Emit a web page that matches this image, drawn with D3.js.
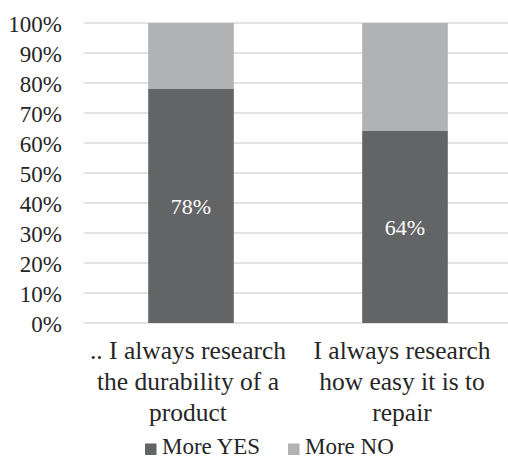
<!DOCTYPE html>
<html>
<head>
<meta charset="utf-8">
<script src="https://cdn.jsdelivr.net/npm/d3@7"></script>
<style>
  html, body { margin: 0; padding: 0; background: #fff; }
  svg { display: block; }
</style>
</head>
<body>
<script>
// Survey answers, share of respondents per statement
const categories = [
  [".. I always research", "the durability of a", "product"],
  ["I always research", "how easy it is to", "repair"]
];
const seriesNames = ["More YES", "More NO"];
const yesValues = [78, 64];
const noValues = [22, 36];
const yTicks = [0, 10, 20, 30, 40, 50, 60, 70, 80, 90, 100];
const colors = ["#636466", "#b1b2b4"];

const FONT = "'Liberation Serif', 'Times New Roman', Times, 'DejaVu Serif', serif";
const INK = "#262626";
const W = 508, H = 461;
const svg = d3.select("body").append("svg").attr("width", W).attr("height", H)
  .style("font-family", FONT);

const x = d3.scaleBand().domain(d3.range(categories.length))
  .range([84, 512]).paddingInner(0.6).paddingOuter(0.3);
const y = d3.scaleLinear().domain([0, 100]).range([323, 23]);

// Gridlines
svg.append("g").selectAll("line").data(yTicks).join("line")
  .attr("x1", 84).attr("x2", W)
  .attr("y1", d => y(d)).attr("y2", d => y(d))
  .attr("stroke", "#d9d9d9").attr("stroke-width", 1.5);

// Y axis labels
const yAxis = d3.axisLeft(y).tickValues(yTicks).tickFormat(d => d + "%").tickSize(0).tickPadding(0);
const gy = svg.append("g").attr("transform", "translate(62,0)").call(yAxis)
  .attr("font-family", null).attr("font-size", null);
gy.select(".domain").remove();
gy.selectAll("text")
  .style("font-family", FONT).style("font-size", "23px")
  .attr("fill", INK).attr("dy", "0.35em");

// Stacked bars
const stackData = categories.map((c, i) => ({ i, yes: yesValues[i], no: noValues[i] }));
const series = d3.stack().keys(["yes", "no"])(stackData);
svg.append("g").selectAll("g").data(series).join("g")
  .attr("fill", (d, k) => colors[k])
  .selectAll("rect").data(d => d).join("rect")
  .attr("x", d => x(d.data.i))
  .attr("width", x.bandwidth())
  .attr("y", d => y(d[1]))
  .attr("height", d => y(d[0]) - y(d[1]));

// Value labels inside the YES segment
svg.append("g").selectAll("text").data(stackData).join("text")
  .attr("x", d => x(d.i) + x.bandwidth() / 2)
  .attr("y", d => y(d.yes / 2))
  .attr("dy", "0.35em")
  .attr("text-anchor", "middle")
  .style("font-family", FONT)
  .style("font-size", "22px")
  .attr("fill", "#ffffff")
  .text(d => d.yes + "%");

// Category labels, three lines each under the bars
const cat = svg.append("g").selectAll("text").data(categories).join("text")
  .attr("text-anchor", "middle")
  .attr("x", (d, i) => x(i) + x.bandwidth() / 2 - 3)
  .attr("y", 359)
  .attr("fill", INK)
  .style("font-family", FONT)
  .style("font-size", "25.5px");
cat.selectAll("tspan").data(d => d).join("tspan")
  .attr("x", function () { return d3.select(this.parentNode).attr("x"); })
  .attr("dy", (d, j) => j === 0 ? 0 : 31)
  .text(d => d);

// Legend
const legendX = [145, 288];
const lg = svg.append("g").selectAll("g").data(seriesNames).join("g")
  .attr("transform", (d, i) => `translate(${legendX[i]},454)`);
lg.append("rect").attr("x", 0).attr("y", -10.5).attr("width", 11.5).attr("height", 11.5)
  .attr("fill", (d, i) => colors[i]);
lg.append("text").attr("x", 17).attr("y", 0)
  .attr("fill", INK)
  .style("font-family", FONT).style("font-size", "23px").text(d => d);
</script>
</body>
</html>
